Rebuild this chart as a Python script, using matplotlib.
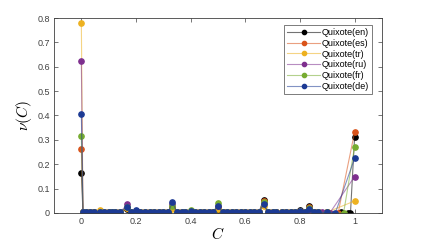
import numpy as np
import matplotlib
matplotlib.use("Agg")
import matplotlib.pyplot as plt
from matplotlib.colors import to_rgba

plt.rcParams["font.family"] = ["Liberation Sans", "DejaVu Sans"]
plt.rcParams["mathtext.fontset"] = "cm"

# clustering values shared by all series (before the tail near C = 1)
c_grid = [0.0, 0.006, 0.018, 0.033, 0.048, 0.0667, 0.083, 0.1, 0.111, 0.125,
          0.143, 0.1667, 0.182, 0.2, 0.214, 0.233, 0.25, 0.267, 0.286, 0.3,
          0.318, 0.3333, 0.35, 0.367, 0.381, 0.4, 0.417, 0.433, 0.45, 0.467,
          0.483, 0.5, 0.517, 0.533, 0.55, 0.567, 0.583, 0.6, 0.617, 0.633,
          0.65, 0.6667, 0.683, 0.7, 0.714, 0.733, 0.75, 0.767, 0.783, 0.8,
          0.817, 0.8333, 0.85, 0.867]

nu_en = [0.163, 0.002, 0.003, 0.002, 0.002, 0.004, 0.002, 0.002, 0.003, 0.002,
         0.003, 0.015, 0.002, 0.004, 0.002, 0.002, 0.003, 0.002, 0.002, 0.003,
         0.002, 0.020, 0.002, 0.002, 0.002, 0.005, 0.002, 0.002, 0.002, 0.002,
         0.002, 0.012, 0.002, 0.002, 0.002, 0.002, 0.002, 0.004, 0.002, 0.002,
         0.002, 0.055, 0.002, 0.003, 0.002, 0.002, 0.004, 0.002, 0.002, 0.012,
         0.002, 0.030, 0.002, 0.002]
nu_es = [0.263, 0.002, 0.002, 0.003, 0.002, 0.004, 0.002, 0.003, 0.002, 0.002,
         0.003, 0.020, 0.002, 0.004, 0.002, 0.002, 0.003, 0.002, 0.002, 0.003,
         0.002, 0.025, 0.002, 0.002, 0.002, 0.004, 0.002, 0.002, 0.002, 0.002,
         0.002, 0.020, 0.002, 0.002, 0.002, 0.002, 0.002, 0.003, 0.002, 0.002,
         0.002, 0.050, 0.002, 0.002, 0.002, 0.002, 0.003, 0.002, 0.002, 0.008,
         0.002, 0.025, 0.002, 0.002]
nu_tr = [0.780, 0.002, 0.003, 0.002, 0.003, 0.012, 0.002, 0.003, 0.002, 0.002,
         0.003, 0.020, 0.002, 0.003, 0.002, 0.002, 0.003, 0.002, 0.002, 0.002,
         0.002, 0.015, 0.002, 0.002, 0.002, 0.004, 0.002, 0.002, 0.002, 0.002,
         0.002, 0.015, 0.002, 0.002, 0.002, 0.002, 0.002, 0.003, 0.002, 0.002,
         0.002, 0.030, 0.002, 0.002, 0.002, 0.002, 0.003, 0.002, 0.002, 0.005,
         0.002, 0.010, 0.002, 0.002]
nu_ru = [0.622, 0.002, 0.002, 0.002, 0.003, 0.005, 0.002, 0.004, 0.002, 0.002,
         0.003, 0.035, 0.002, 0.004, 0.002, 0.002, 0.003, 0.002, 0.002, 0.003,
         0.002, 0.035, 0.002, 0.002, 0.002, 0.004, 0.002, 0.002, 0.002, 0.002,
         0.002, 0.030, 0.002, 0.002, 0.002, 0.002, 0.002, 0.003, 0.002, 0.002,
         0.002, 0.040, 0.002, 0.002, 0.002, 0.002, 0.003, 0.002, 0.002, 0.006,
         0.002, 0.012, 0.002, 0.002]
nu_fr = [0.315, 0.002, 0.002, 0.003, 0.002, 0.004, 0.002, 0.003, 0.002, 0.002,
         0.003, 0.025, 0.002, 0.004, 0.002, 0.002, 0.003, 0.002, 0.002, 0.003,
         0.002, 0.030, 0.002, 0.002, 0.002, 0.010, 0.002, 0.002, 0.002, 0.002,
         0.002, 0.040, 0.002, 0.002, 0.002, 0.002, 0.002, 0.004, 0.002, 0.002,
         0.002, 0.045, 0.002, 0.002, 0.002, 0.002, 0.004, 0.002, 0.002, 0.008,
         0.002, 0.020, 0.002, 0.002]
nu_de = [0.408, 0.002, 0.002, 0.002, 0.003, 0.004, 0.002, 0.003, 0.002, 0.002,
         0.004, 0.025, 0.002, 0.012, 0.002, 0.002, 0.003, 0.002, 0.002, 0.003,
         0.002, 0.045, 0.002, 0.002, 0.002, 0.008, 0.002, 0.002, 0.002, 0.002,
         0.002, 0.030, 0.002, 0.002, 0.002, 0.002, 0.002, 0.004, 0.002, 0.002,
         0.002, 0.035, 0.002, 0.002, 0.002, 0.002, 0.004, 0.002, 0.002, 0.006,
         0.002, 0.015, 0.002, 0.002]

# tails up to C = 1
tail_c = {
    "en": [0.9, 0.95, 0.975, 0.985, 1.0],
    "es": [0.9, 0.94, 1.0],
    "tr": [0.9, 1.0],
    "ru": [0.88, 0.91, 1.0],
    "fr": [0.9, 0.96, 1.0],
    "de": [0.9, 0.93, 1.0],
}
tail_nu = {
    "en": [0.003, 0.002, 0.001, 0.0, 0.310],
    "es": [0.002, 0.001, 0.331],
    "tr": [0.003, 0.049],
    "ru": [0.003, 0.001, 0.149],
    "fr": [0.002, 0.001, 0.272],
    "de": [0.002, 0.001, 0.224],
}

langs = ["en", "es", "tr", "ru", "fr", "de"]
series = {"en": nu_en, "es": nu_es, "tr": nu_tr, "ru": nu_ru, "fr": nu_fr, "de": nu_de}
colors = {
    "en": "#000000",
    "es": "#d95319",
    "tr": "#edb120",
    "ru": "#7e2f8e",
    "fr": "#77ac30",
    "de": "#1c3a94",
}

fig = plt.figure(figsize=(4.22, 2.47), dpi=100)
ax = fig.add_axes([0.128, 0.138, 0.777, 0.789])

for lang in langs:
    x = list(c_grid) + tail_c[lang]
    y = list(series[lang]) + tail_nu[lang]
    ax.plot(x, y, "-o",
            color=to_rgba(colors[lang], 0.55),
            mfc=colors[lang], mec=colors[lang],
            lw=0.8, ms=3.8, label="Quixote(" + lang + ")")

ax.set_xlim(-0.1, 1.1)
ax.set_ylim(0, 0.8)
ax.set_xticks([0, 0.2, 0.4, 0.6, 0.8, 1])
ax.set_xticklabels(["0", "0.2", "0.4", "0.6", "0.8", "1"])
ax.set_yticks(np.arange(0, 0.81, 0.1))
ax.set_yticklabels(["0", "0.1", "0.2", "0.3", "0.4", "0.5", "0.6", "0.7", "0.8"])
ax.tick_params(direction="in", length=3, width=0.5, labelsize=6.5,
               top=True, right=True, colors="#404040", pad=3)
for sp in ax.spines.values():
    sp.set_linewidth(0.6)
    sp.set_color("#404040")

ax.set_xlabel("$C$", fontsize=11, labelpad=0)
ax.set_ylabel(r"$\nu(C)$", fontsize=11, labelpad=2)

leg = ax.legend(loc="upper right", bbox_to_anchor=(0.97, 0.965), fontsize=6.5,
                frameon=True, fancybox=False, handlelength=3.6, markerscale=0.8,
                borderpad=0.35, labelspacing=0.2, handletextpad=0.2,
                borderaxespad=0)
leg.get_frame().set_edgecolor("#404040")
leg.get_frame().set_linewidth(0.6)

fig.savefig("out.png", dpi=100)
